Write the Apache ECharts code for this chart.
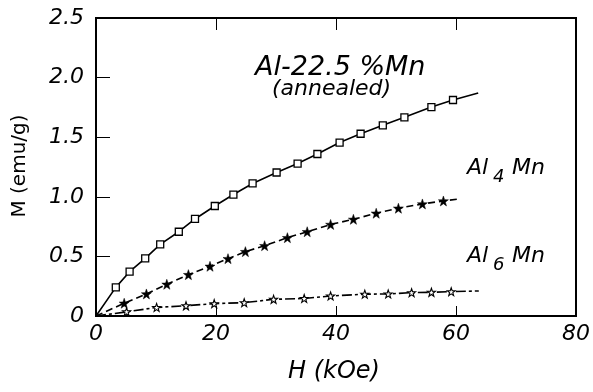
<!DOCTYPE html>
<html>
<head>
<meta charset="utf-8">
<script src="https://cdn.jsdelivr.net/npm/echarts@6/dist/echarts.min.js"></script>
<style>
html,body{margin:0;padding:0;background:#fff;}
#chart{width:593px;height:392px;}
</style>
</head>
<body>
<div id="chart"></div>
<script>
// ---- data ----
// Al-22.5 %Mn (annealed): open squares, solid line
var annealedH = [3.3, 5.6, 8.2, 10.7, 13.8, 16.5, 19.8, 22.9, 26.1, 30.1, 33.6, 36.9, 40.6, 44.1, 47.8, 51.4, 55.9, 59.5];
var annealedM = [0.24, 0.372, 0.484, 0.601, 0.707, 0.814, 0.923, 1.019, 1.112, 1.204, 1.279, 1.359, 1.455, 1.529, 1.600, 1.667, 1.753, 1.812];
var annealedLineEnd = [63.7, 1.87];
// Al4Mn: filled stars, dashed line
var al4H = [4.7, 8.4, 11.8, 15.4, 19.0, 22.0, 24.9, 28.1, 31.9, 35.2, 39.1, 42.9, 46.7, 50.4, 54.4, 57.9];
var al4M = [0.107, 0.185, 0.266, 0.347, 0.417, 0.481, 0.540, 0.590, 0.657, 0.707, 0.768, 0.811, 0.862, 0.904, 0.940, 0.965];
var al4LineEnd = [60.2, 0.98];
// Al6Mn: open stars, dash-dot line
var al6H = [5.1, 10.1, 15.0, 19.7, 24.7, 29.6, 34.7, 39.1, 44.8, 48.7, 52.6, 55.9, 59.2];
var al6M = [0.035, 0.072, 0.086, 0.104, 0.112, 0.14, 0.147, 0.168, 0.183, 0.185, 0.196, 0.199, 0.204];
var al6LineEnd = [63.8, 0.21];
var origin = [0, 0];
// axes
var xTicks = [0, 20, 40, 60, 80];
var yTicks = [0, 0.5, 1.0, 1.5, 2.0, 2.5];

var STAR = 'path://M10,0L12.35,6.76L19.51,6.91L13.8,11.24L15.88,18.09L10,14L4.12,18.09L6.2,11.24L0.49,6.91L7.65,6.76Z';
var FONT = '"DejaVu Sans", sans-serif';

function build(hs, ms, end) {
  var d = [{value: origin, symbol: 'none'}];
  for (var i = 0; i < hs.length; i++) d.push([hs[i], ms[i]]);
  d.push({value: end, symbol: 'none'});
  return d;
}
function axLine() { return {show: true, onZero: false, lineStyle: {color: '#000', width: 2}}; }
function ticks(len) { return {show: true, inside: true, length: len}; }

var chart = echarts.init(document.getElementById('chart'));

var option = {
  animation: false,
  grid: {left: 96, right: 13, top: 18, bottom: 76, show: true, borderColor: '#000', borderWidth: 2, backgroundColor: 'transparent'},
  xAxis: [{
    type: 'value', position: 'bottom', min: xTicks[0], max: xTicks[xTicks.length - 1], interval: 20,
    axisLine: axLine(), axisTick: ticks(10),
    axisLabel: {show: true, color: '#000', fontFamily: FONT, fontStyle: 'italic', fontSize: 22, margin: 7},
    splitLine: {show: false}
  }, {
    type: 'value', position: 'top', min: xTicks[0], max: xTicks[xTicks.length - 1], interval: 20,
    axisLine: axLine(), axisTick: ticks(12),
    axisLabel: {show: false}, splitLine: {show: false}
  }],
  yAxis: [{
    type: 'value', position: 'left', min: yTicks[0], max: yTicks[yTicks.length - 1], interval: 0.5,
    axisLine: axLine(), axisTick: ticks(14),
    axisLabel: {show: true, color: '#000', fontFamily: FONT, fontStyle: 'italic', fontSize: 22, margin: 12,
      formatter: function (v) { return v === 0 ? '0' : v.toFixed(1); }},
    splitLine: {show: false}
  }],
  series: [{
    name: 'Al-22.5 %Mn (annealed)', type: 'line',
    data: build(annealedH, annealedM, annealedLineEnd),
    symbol: 'rect', symbolSize: 7, showAllSymbol: true,
    lineStyle: {color: '#000', width: 1.6, type: 'solid'},
    itemStyle: {color: '#fff', borderColor: '#000', borderWidth: 1.3}
  }, {
    name: 'Al4Mn', type: 'line',
    data: build(al4H, al4M, al4LineEnd),
    symbol: STAR, symbolSize: 10, showAllSymbol: true,
    lineStyle: {color: '#000', width: 1.6, type: [7, 4]},
    itemStyle: {color: '#000', borderColor: '#000', borderWidth: 0.5}
  }, {
    name: 'Al6Mn', type: 'line',
    data: build(al6H, al6M, al6LineEnd),
    symbol: STAR, symbolSize: 8, showAllSymbol: true,
    lineStyle: {color: '#000', width: 1.6, type: [10, 3, 3, 3]},
    itemStyle: {color: '#fff', borderColor: '#000', borderWidth: 1.1}
  }],
  graphic: [
    {type: 'text', left: 255, top: 54, style: {text: 'Al-22.5 %Mn', font: 'italic 27px ' + FONT, fill: '#000'}},
    {type: 'text', left: 272, top: 78, style: {text: '(annealed)', font: 'italic 22px ' + FONT, fill: '#000'}},
    {type: 'text', left: 467, top: 157, style: {text: 'Al', font: 'italic 22px ' + FONT, fill: '#000'}},
    {type: 'text', left: 493, top: 168, style: {text: '4', font: 'italic 18px ' + FONT, fill: '#000'}},
    {type: 'text', left: 512, top: 157, style: {text: 'Mn', font: 'italic 22px ' + FONT, fill: '#000'}},
    {type: 'text', left: 467, top: 245, style: {text: 'Al', font: 'italic 22px ' + FONT, fill: '#000'}},
    {type: 'text', left: 493, top: 256, style: {text: '6', font: 'italic 18px ' + FONT, fill: '#000'}},
    {type: 'text', left: 512, top: 245, style: {text: 'Mn', font: 'italic 22px ' + FONT, fill: '#000'}},
    {type: 'text', left: 288, top: 360, style: {text: 'H (kOe)', font: 'italic 24px ' + FONT, fill: '#000'}},
    {type: 'text', x: 20, y: 166, rotation: Math.PI / 2,
      style: {text: 'M (emu/g)', font: '20px ' + FONT, fill: '#000', align: 'center', verticalAlign: 'middle'}}
  ]
};
chart.setOption(option);
</script>
</body>
</html>
